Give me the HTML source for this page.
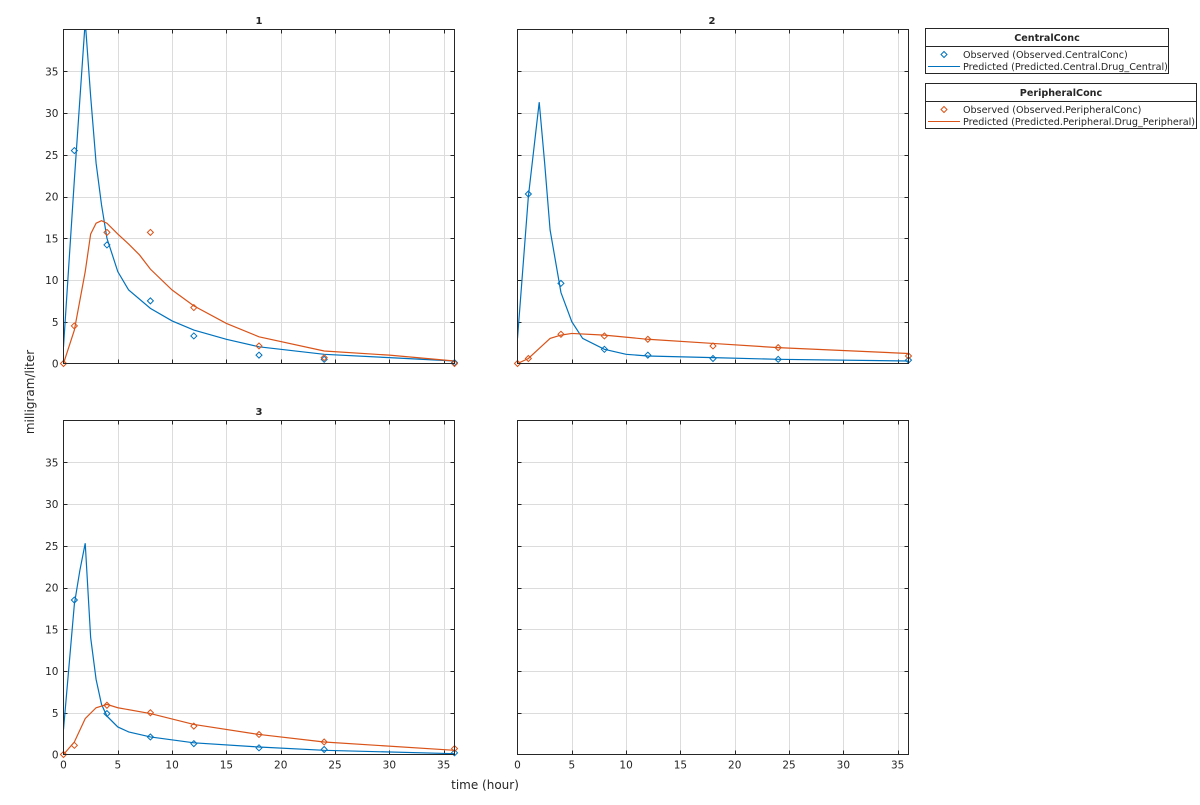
<!DOCTYPE html>
<html><head><meta charset="utf-8"><style>
body{margin:0;background:#fff;}
svg text{font-family:"DejaVu Sans","Liberation Sans",sans-serif;fill:#262626;}
</style></head><body>
<svg id="s" width="1200" height="800" xmlns="http://www.w3.org/2000/svg">
<rect width="1200" height="800" fill="#fff"/>
<text x="34" y="392" font-size="12" text-anchor="middle" transform="rotate(-90 34 392)">milligram/liter</text>
<text x="485" y="789" font-size="12" text-anchor="middle">time (hour)</text>
<text x="259" y="24" font-size="10" font-weight="bold" text-anchor="middle">1</text>
<text x="712" y="24" font-size="10" font-weight="bold" text-anchor="middle">2</text>
<text x="259" y="415" font-size="10" font-weight="bold" text-anchor="middle">3</text>
<g font-size="9.6">
<rect x="925.5" y="28.5" width="243" height="45" fill="#fff" stroke="#262626"/>
<line x1="925.5" y1="46.5" x2="1168.5" y2="46.5" stroke="#262626"/>
<text x="1047" y="41" text-anchor="middle" font-weight="bold">CentralConc</text>
<path d="M944 51.5 L947 54.5 L944 57.5 L941 54.5Z" fill="none" stroke="#0072BD"/>
<text x="963" y="58">Observed (Observed.CentralConc)</text>
<line x1="928" y1="66.5" x2="960" y2="66.5" stroke="#0072BD"/>
<text x="963" y="70">Predicted (Predicted.Central.Drug_Central)</text>
<rect x="925.5" y="83.5" width="271" height="45" fill="#fff" stroke="#262626"/>
<line x1="925.5" y1="101.5" x2="1196.5" y2="101.5" stroke="#262626"/>
<text x="1061" y="96" text-anchor="middle" font-weight="bold">PeripheralConc</text>
<path d="M944 106.5 L947 109.5 L944 112.5 L941 109.5Z" fill="none" stroke="#D95319"/>
<text x="963" y="113">Observed (Observed.PeripheralConc)</text>
<line x1="928" y1="121.5" x2="960" y2="121.5" stroke="#D95319"/>
<text x="963" y="125">Predicted (Predicted.Peripheral.Drug_Peripheral)</text>
</g>
</svg>
<script>
var S=document.getElementById('s'),NS='http://www.w3.org/2000/svg';
function el(t,a,txt){var e=document.createElementNS(NS,t);for(var k in a)e.setAttribute(k,a[k]);if(txt!=null)e.textContent=txt;S.appendChild(e);return e;}
var xl=['0','5','10','15','20','25','30','35'],yl=['0','5','10','15','20','25','30','35'];
var B='#0072BD',O='#D95319';
var P=[
{L:63.5,T:29.5,yl:1,xl:0,
 c:[[0,2],[1,22],[2,41],[2.5,32],[3,24],[3.5,19],[4,15],[5,11],[6,8.8],[8,6.6],[10,5.1],[12,4],[15,2.9],[18,2],[24,1.1],[30,0.7],[36,0.3]],
 p:[[0,0],[1,4],[2,11],[2.5,15.5],[3,16.8],[3.5,17.1],[4,16.8],[5,15.5],[6,14.3],[7,13],[8,11.3],[10,8.8],[12,6.9],[15,4.8],[18,3.2],[24,1.5],[30,1],[36,0.3]],
 co:[[1,25.5],[4,14.2],[8,7.5],[12,3.3],[18,1],[24,0.5],[36,0.1]],
 po:[[0,0],[1,4.5],[4,15.7],[8,15.7],[12,6.7],[18,2.1],[24,0.7],[36,0]]},
{L:517.5,T:29.5,yl:0,xl:0,
 c:[[0,3],[1,20],[2,31.3],[2.5,24],[3,16],[4,8.5],[5,5],[6,3],[8,1.7],[10,1.1],[12,0.9],[18,0.7],[24,0.5],[36,0.3]],
 p:[[0,0],[1,0.6],[2,1.8],[3,3],[4,3.4],[5,3.6],[8,3.4],[12,2.9],[18,2.4],[24,1.9],[36,1.2]],
 co:[[1,20.3],[4,9.6],[8,1.7],[12,1],[18,0.6],[24,0.5],[36,0.4]],
 po:[[0,0],[1,0.6],[4,3.5],[8,3.3],[12,2.9],[18,2.1],[24,1.9],[36,0.9]]},
{L:63.5,T:420.5,yl:1,xl:1,
 c:[[0,3],[1,18],[1.5,22],[2,25.3],[2.5,14],[3,9],[3.5,6],[4,4.6],[5,3.3],[6,2.7],[8,2.1],[12,1.4],[18,0.9],[24,0.5],[36,0.1]],
 p:[[0,0],[1,1.5],[2,4.3],[3,5.6],[4,6],[5,5.6],[8,4.9],[12,3.6],[18,2.4],[24,1.5],[36,0.5]],
 co:[[1,18.5],[4,4.9],[8,2.1],[12,1.3],[18,0.8],[24,0.6],[36,0.2]],
 po:[[0,0],[1,1.1],[4,5.9],[8,5],[12,3.4],[18,2.4],[24,1.5],[36,0.7]]},
{L:517.5,T:420.5,yl:0,xl:1,c:[],p:[],co:[],po:[]}];
var W=391,H=334;
P.forEach(function(p,i){
 var X=function(t){return p.L+t*W/36},Y=function(v){return p.T+H-v*H/40};
 el('rect',{x:p.L,y:p.T,width:W,height:H,fill:'#fff'});
 var cp='c'+i;var d=el('clipPath',{id:cp});var r=document.createElementNS(NS,'rect');r.setAttribute('x',p.L);r.setAttribute('y',p.T);r.setAttribute('width',W);r.setAttribute('height',H);d.appendChild(r);
 for(var k=1;k<8;k++){var x=Math.round(X(k*5))+0.5;el('line',{x1:x,y1:p.T,x2:x,y2:p.T+H,stroke:'#dcdcdc'});
  el('line',{x1:x,y1:p.T+H,x2:x,y2:p.T+H-4,stroke:'#262626'});el('line',{x1:x,y1:p.T,x2:x,y2:p.T+4,stroke:'#262626'});}
 for(var k=1;k<8;k++){var y=Math.round(Y(k*5))+0.5;el('line',{x1:p.L,y1:y,x2:p.L+W,y2:y,stroke:'#dcdcdc'});
  el('line',{x1:p.L,y1:y,x2:p.L+4,y2:y,stroke:'#262626'});el('line',{x1:p.L+W,y1:y,x2:p.L+W-4,y2:y,stroke:'#262626'});}
 for(var k=0;k<8;k++){
  if(p.yl)el('text',{x:p.L-5,y:Y(k*5)+4,'font-size':10.5,'text-anchor':'end'},yl[k]);
  if(p.xl)el('text',{x:X(k*5),y:p.T+H+14,'font-size':10.5,'text-anchor':'middle'},xl[k]);}
 function line(a,c){if(!a.length)return;el('polyline',{points:a.map(function(q){return X(q[0])+','+Y(q[1])}).join(' '),fill:'none',stroke:c,'stroke-width':1.2,'clip-path':'url(#'+cp+')'});}
 function mk(a,c){a.forEach(function(q){var x=X(q[0]),y=Y(q[1]);el('path',{d:'M'+x+' '+(y-3)+'L'+(x+3)+' '+y+'L'+x+' '+(y+3)+'L'+(x-3)+' '+y+'Z',fill:'none',stroke:c});});}
 line(p.c,B);line(p.p,O);mk(p.co,B);mk(p.po,O);
 el('rect',{x:p.L,y:p.T,width:W,height:H,fill:'none',stroke:'#262626'});
});
</script>
</body></html>
